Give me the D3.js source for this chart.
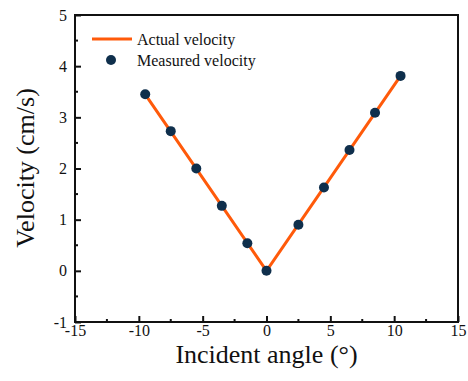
<!DOCTYPE html>
<html>
<head>
<meta charset="utf-8">
<script src="https://cdn.jsdelivr.net/npm/d3@7"></script>
<style>
  body { margin: 0; background: #fff; }
  text { font-family: "Liberation Serif", "Times New Roman", serif; fill: #111; }
</style>
</head>
<body>
<div id="chart"></div>
<script>
// data
const angleActual = [-9.5, 0, 10.5];
const velocityActual = [3.45, 0, 3.81];
const angleMeasured = [-9.5, -7.5, -5.5, -3.5, -1.5, 0, 2.5, 4.5, 6.5, 8.5, 10.5];
const velocityMeasured = [3.45, 2.73, 2.0, 1.27, 0.54, 0, 0.9, 1.63, 2.36, 3.09, 3.81];
const xTicks = [-15, -10, -5, 0, 5, 10, 15];
const yTicks = [-1, 0, 1, 2, 3, 4, 5];

const width = 468, height = 381;
const margin = {top: 15, right: 10, bottom: 59, left: 75};

const svg = d3.select("#chart").append("svg")
    .attr("width", width)
    .attr("height", height);

const x = d3.scaleLinear().domain([-15, 15]).range([margin.left, width - margin.right]);
const y = d3.scaleLinear().domain([-1, 5]).range([height - margin.bottom, margin.top]);

// frame
svg.append("rect")
    .attr("x", x(-15))
    .attr("y", y(5))
    .attr("width", x(15) - x(-15))
    .attr("height", y(-1) - y(5))
    .attr("fill", "none")
    .attr("stroke", "#111")
    .attr("stroke-width", 2);

// minor ticks
const xMinor = d3.range(-12.5, 15, 5);
const yMinor = d3.range(-0.5, 5, 1);
svg.append("g").selectAll("line").data(xMinor).join("line")
    .attr("x1", d => x(d)).attr("x2", d => x(d))
    .attr("y1", y(-1)).attr("y2", y(-1) - 3)
    .attr("stroke", "#111").attr("stroke-width", 2);
svg.append("g").selectAll("line").data(yMinor).join("line")
    .attr("x1", x(-15)).attr("x2", x(-15) + 3)
    .attr("y1", d => y(d)).attr("y2", d => y(d))
    .attr("stroke", "#111").attr("stroke-width", 2);

// axes, ticks pointing inward
const fmt = d => String(d);
const xAxis = svg.append("g")
    .attr("transform", `translate(0,${y(-1)})`)
    .call(d3.axisBottom(x).tickValues(xTicks).tickFormat(fmt).tickSizeInner(-6).tickSizeOuter(0).tickPadding(3));
const yAxis = svg.append("g")
    .attr("transform", `translate(${x(-15)},0)`)
    .call(d3.axisLeft(y).tickValues(yTicks).tickFormat(fmt).tickSizeInner(-6).tickSizeOuter(0).tickPadding(8));

[xAxis, yAxis].forEach(a => {
    a.select(".domain").remove();
    a.selectAll(".tick line").attr("stroke", "#111").attr("stroke-width", 2);
    a.selectAll(".tick text")
        .style("font-family", "'Liberation Serif', serif")
        .style("font-size", "16px")
        .attr("fill", "#111");
});

// axis titles
svg.append("text")
    .attr("x", x(0))
    .attr("y", 363)
    .attr("text-anchor", "middle")
    .style("font-size", "26px")
    .text("Incident angle (°)");

svg.append("text")
    .attr("transform", `translate(34,168) rotate(-90)`)
    .attr("text-anchor", "middle")
    .style("font-size", "26px")
    .text("Velocity (cm/s)");

const orange = "#ff5a0a";
const navy = "#0f2f4c";

// actual velocity line
const line = d3.line()
    .x(d => x(d[0]))
    .y(d => y(d[1]));
svg.append("path")
    .datum(angleActual.map((a, i) => [a, velocityActual[i]]))
    .attr("d", line)
    .attr("fill", "none")
    .attr("stroke", orange)
    .attr("stroke-width", 3);

// measured points
svg.append("g").selectAll("circle")
    .data(angleMeasured.map((a, i) => [a, velocityMeasured[i]]))
    .join("circle")
    .attr("cx", d => x(d[0]))
    .attr("cy", d => y(d[1]))
    .attr("r", 5)
    .attr("fill", navy);

// legend
const legend = svg.append("g");
legend.append("line")
    .attr("x1", 92).attr("x2", 132)
    .attr("y1", 39).attr("y2", 39)
    .attr("stroke", orange).attr("stroke-width", 3);
legend.append("text")
    .attr("x", 137).attr("y", 45)
    .style("font-size", "16px")
    .text("Actual velocity");
legend.append("circle")
    .attr("cx", 111).attr("cy", 60)
    .attr("r", 5)
    .attr("fill", navy);
legend.append("text")
    .attr("x", 137).attr("y", 66)
    .style("font-size", "16px")
    .text("Measured velocity");
</script>
</body>
</html>
